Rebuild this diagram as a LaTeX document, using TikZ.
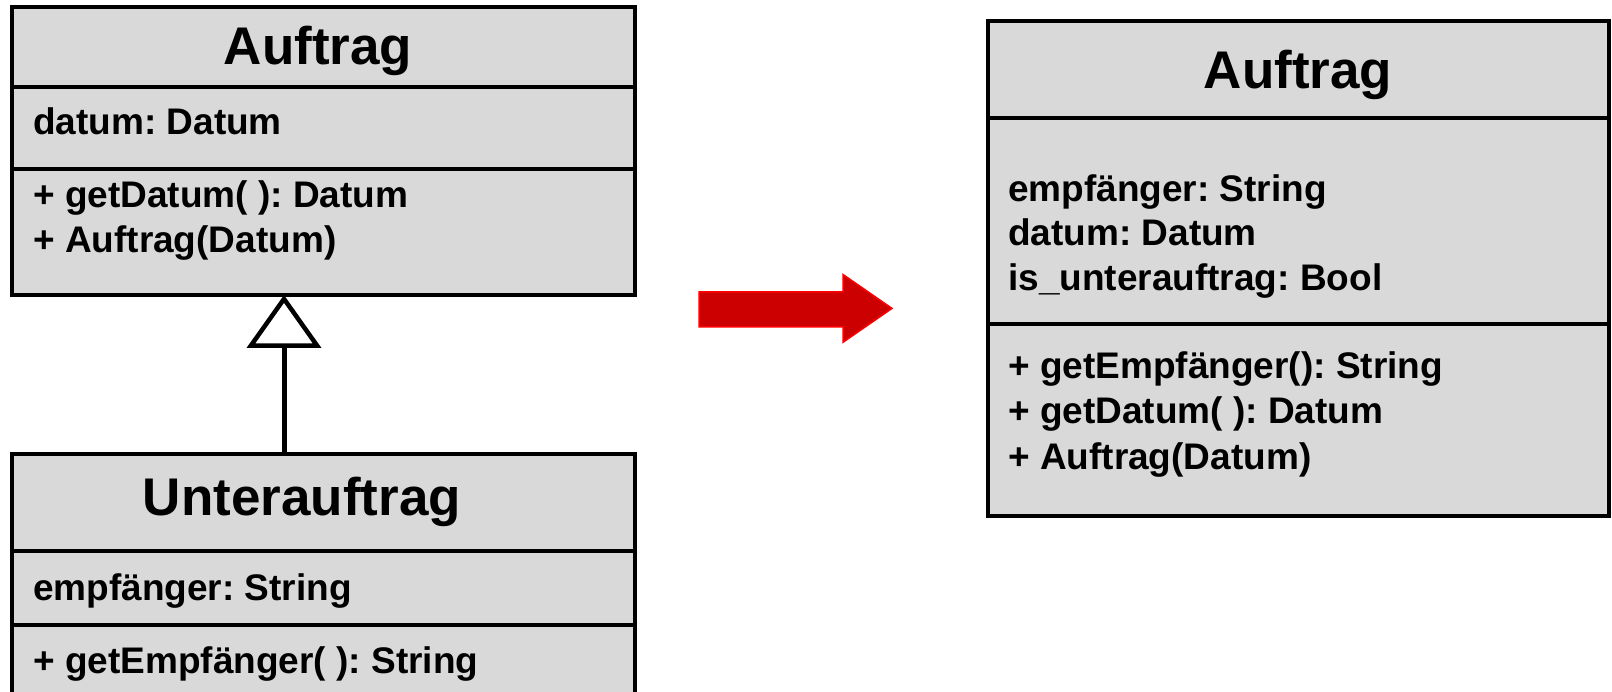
\documentclass[tikz,border=0pt]{standalone}
\usepackage{fontspec}
\setmainfont{Liberation Sans}
\usetikzlibrary{arrows.meta}
\definecolor{boxgray}{HTML}{D9D9D9}
\definecolor{arrowred}{HTML}{CC0000}
\definecolor{arrowedge}{HTML}{FF0000}
\begin{document}
\frenchspacing
\begin{tikzpicture}[x=1pt,y=-1pt,
  comp/.style={draw=black, line width=4pt, fill=boxgray, inner sep=0pt, outer sep=0pt, anchor=north west},
  ctitle/.style={font=\fontsize{53}{60}\selectfont\bfseries, anchor=base, inner sep=0pt},
  member/.style={font=\fontsize{37}{44}\selectfont\bfseries, anchor=base west, inner sep=0pt},
  inherit/.style={line width=5pt, -{Triangle[open, length=53pt, width=74pt, line width=4.5pt]}},
  bigarrow/.style={fill=arrowred, draw=arrowedge, line width=1.5pt, line join=miter}
]
\clip (0,0) rectangle (1612,692);

% superclass Auftrag (left top)
\node[comp, minimum width=623pt, minimum height=80pt] (supT) at (12,7) {};
\node[comp, minimum width=623pt, minimum height=82pt] (supA) at (12,87) {};
\node[comp, minimum width=623pt, minimum height=126pt] (supM) at (12,169) {};
\node[ctitle] (supTt) at (318,65) {Auftrag};
\node[member] (supA1) at (33,135) {datum: Datum};
\node[member] (supM1) at (33,208) {+ getDatum( ): Datum};
\node[member] (supM2) at (33,253) {+ Auftrag(Datum)};

% subclass Unterauftrag (left bottom)
\node[comp, minimum width=623pt, minimum height=97pt] (subT) at (12,454) {};
\node[comp, minimum width=623pt, minimum height=74pt] (subA) at (12,551) {};
\node[comp, minimum width=623pt, minimum height=150pt] (subM) at (12,625) {};
\node[ctitle] (subTt) at (302,515) {Unterauftrag};
\node[member] (subA1) at (33,600) {empfänger: String};
\node[member] (subM1) at (33,673) {+ getEmpfänger( ): String};

% inheritance
\coordinate (inhx) at (284,0);
\draw[inherit] (inhx |- subT.north) -- (inhx |- supM.south);

% red block arrow
\draw[bigarrow] (699,292) -- (843,292) -- (843,274.5) -- (892,308.4) -- (843,342.3) -- (843,327) -- (699,327) -- cycle;

% merged class Auftrag (right)
\node[comp, minimum width=621pt, minimum height=97pt] (resT) at (988,21) {};
\node[comp, minimum width=621pt, minimum height=206pt] (resA) at (988,118) {};
\node[comp, minimum width=621pt, minimum height=192pt] (resM) at (988,324) {};
\node[ctitle] (resTt) at (1298,89) {Auftrag};
\node[member] (resA1) at (1008,201.5) {empfänger: String};
\node[member] (resA2) at (1008,246) {datum: Datum};
\node[member] (resA3) at (1008,291) {is\_unterauftrag: Bool};
\node[member] (resM1) at (1008,378.5) {+ getEmpfänger(): String};
\node[member] (resM2) at (1008,424) {+ getDatum( ): Datum};
\node[member] (resM3) at (1008,469.5) {+ Auftrag(Datum)};
\end{tikzpicture}
\end{document}
